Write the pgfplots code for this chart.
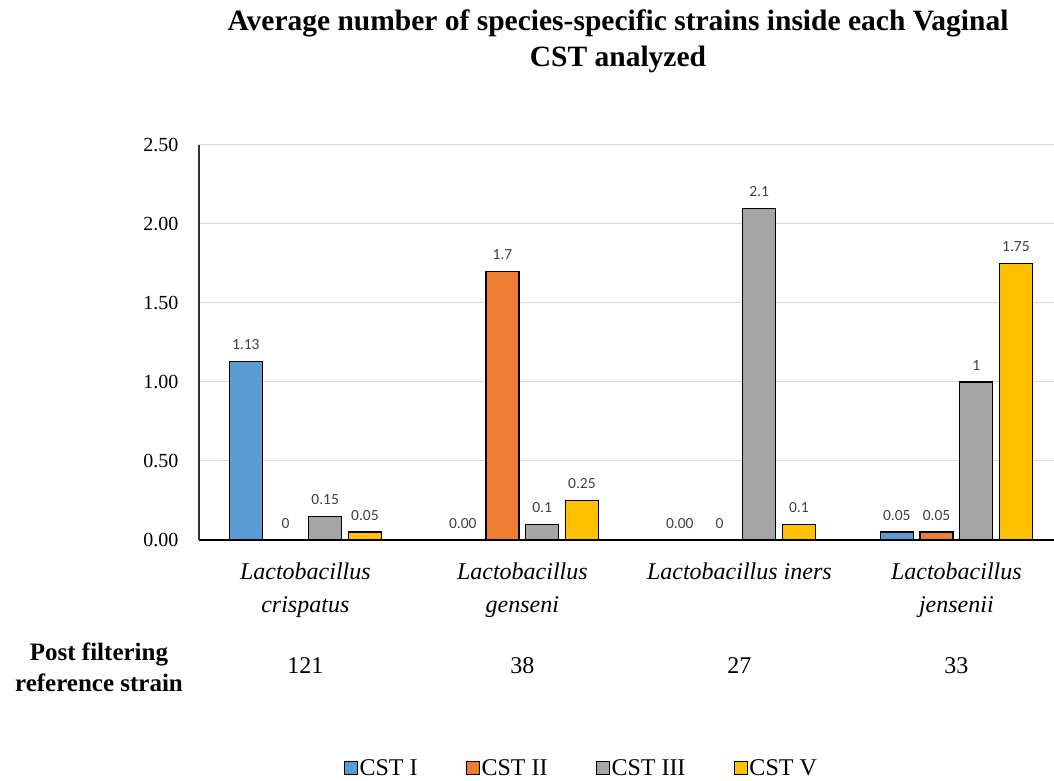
\documentclass[border=0pt]{standalone}
\usepackage{fontspec}
\setmainfont{Liberation Serif}
\newfontfamily\lblfont{Carlito}
\usepackage{pgfplots}
\pgfplotsset{compat=1.18}
\usepackage{pgfplotstable}

\definecolor{cI}{HTML}{5B9BD5}
\definecolor{cII}{HTML}{ED7D31}
\definecolor{cIII}{HTML}{A5A5A5}
\definecolor{cV}{HTML}{FFC000}
\definecolor{gridc}{HTML}{D9D9D9}
\definecolor{lblc}{HTML}{404040}

\pgfplotstableread{
x y lab
0 1.13 1.13
1 0 0.00
2 0 0.00
3 0.05 0.05
}\cstI
\pgfplotstableread{
x y lab
0 0 0
1 1.7 1.7
2 0 0
3 0.05 0.05
}\cstII
\pgfplotstableread{
x y lab
0 0.15 0.15
1 0.1 0.1
2 2.1 2.1
3 1 1
}\cstIII
\pgfplotstableread{
x y lab
0 0.05 0.05
1 0.25 0.25
2 0.1 0.1
3 1.75 1.75
}\cstV

\begin{document}
\begin{tikzpicture}
\useasboundingbox (0,0) rectangle (1054bp,781bp);
\node[font=\fontsize{29.5bp}{36bp}\selectfont\bfseries, align=center] at (618bp,740bp)
  {Average number of species-specific strains inside each Vaginal\\CST analyzed};
\node[font=\fontsize{25bp}{31bp}\selectfont\bfseries, align=center] at (99bp,114bp)
  {Post filtering\\reference strain};
\begin{axis}[
  at={(199bp,241bp)}, anchor=south west, scale only axis,
  width=855bp, height=395bp,
  ybar=6.7bp, bar width=33bp,
  legend image code/.code={\draw[#1, line width=1bp] (0bp,-6.5bp) rectangle (13bp,6.5bp);},
  xmin=-0.49, xmax=3.45, ymin=0, ymax=2.5,
  xtick={0,1,2,3},
  xticklabels={{Lactobacillus\\crispatus},{Lactobacillus\\genseni},{Lactobacillus iners},{Lactobacillus\\jensenii}},
  xticklabel style={font=\fontsize{24bp}{33bp}\selectfont\itshape, align=center, yshift=-19bp},
  ytick={0,0.5,1,1.5,2,2.5},
  yticklabel style={font=\fontsize{20bp}{24bp}\selectfont, xshift=-17bp,
    /pgf/number format/.cd, fixed, fixed zerofill, precision=2, assume math mode=true},
  axis x line*=bottom, axis y line*=left,
  x axis line style={black, line width=1.5bp, -},
  y axis line style={black!80, line width=1.5bp, -},
  major tick length=0pt,
  ymajorgrids, major grid style={gridc, line width=1bp},
  nodes near coords, point meta=explicit symbolic,
  nodes near coords style={font=\lblfont\fontsize{15.5bp}{17bp}\selectfont, text=lblc, anchor=south, inner sep=0pt, yshift=11bp},
  legend columns=4,
  legend style={at={(0.447,-0.577)}, anchor=center, draw=none,
    font=\fontsize{24bp}{28bp}\selectfont,
    /tikz/every even column/.append style={column sep=46bp},
    /tikz/every odd column/.append style={column sep=0bp}},
  legend cell align=left,
  clip=false,
]
\addplot[fill=cI, draw=black, line width=1.2bp] table[x=x, y=y, meta=lab] {\cstI};
\addplot[fill=cII, draw=black, line width=1.2bp] table[x=x, y=y, meta=lab] {\cstII};
\addplot[fill=cIII, draw=black, line width=1.2bp] table[x=x, y=y, meta=lab] {\cstIII};
\addplot[fill=cV, draw=black, line width=1.2bp] table[x=x, y=y, meta=lab] {\cstV};
\addlegendentry{CST I}
\addlegendentry{CST II}
\addlegendentry{CST III}
\addlegendentry{CST V}
\node[font=\fontsize{24bp}{28bp}\selectfont] at (axis cs:0,0) [yshift=-126bp] {121};
\node[font=\fontsize{24bp}{28bp}\selectfont] at (axis cs:1,0) [yshift=-126bp] {38};
\node[font=\fontsize{24bp}{28bp}\selectfont] at (axis cs:2,0) [yshift=-126bp] {27};
\node[font=\fontsize{24bp}{28bp}\selectfont] at (axis cs:3,0) [yshift=-126bp] {33};
\end{axis}
\end{tikzpicture}
\end{document}
